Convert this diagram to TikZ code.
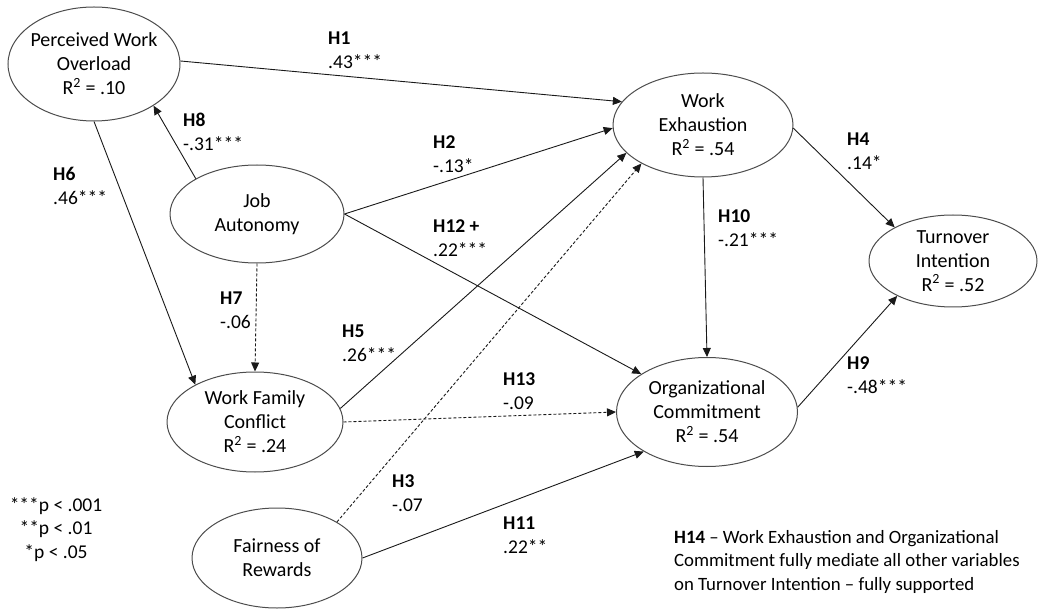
\documentclass[tikz,border=0pt]{standalone}
\usepackage{fontspec}
\setmainfont{Carlito}
\usetikzlibrary{arrows.meta,shapes.geometric}
\tikzset{
  var/.style={ellipse, draw=black!70, line width=1pt, inner sep=-25pt, align=center,
    font=\fontsize{20}{24}\selectfont},
  lbl/.style={anchor=north west, inner sep=0pt, align=left,
    font=\fontsize{19.5}{23.5}\selectfont},
  link/.style={draw=black!90, line width=0.9pt, -{Triangle[length=9pt,width=8pt]}},
  dlink/.style={link, dash pattern=on 3pt off 2pt},
}
\begin{document}
\begin{tikzpicture}[x=1pt,y=-1pt]
\useasboundingbox (0,0) rectangle (1038,609);
% variables
\node[var, minimum width=172pt, minimum height=114pt] (pwo) at (94,64) {Perceived Work\\Overload\\R\textsuperscript{2} = .10};
\node[var, minimum width=174pt, minimum height=98pt] (ja) at (257,214) {Job\\Autonomy};
\node[var, minimum width=180pt, minimum height=104pt] (we) at (703,125) {Work\\Exhaustion\\R\textsuperscript{2} = .54};
\node[var, minimum width=168pt, minimum height=92pt] (ti) at (953,261) {Turnover\\Intention\\R\textsuperscript{2} = .52};
\node[var, minimum width=181pt, minimum height=109pt] (oc) at (707,412) {Organizational\\Commitment\\R\textsuperscript{2} = .54};
\node[var, minimum width=176pt, minimum height=100pt] (wfc) at (255,422) {Work Family\\Conflict\\R\textsuperscript{2} = .24};
\node[var, minimum width=170pt, minimum height=100pt] (fr) at (277,558) {Fairness of\\Rewards};
% paths
\draw[link] (pwo.2) -- (we.164);
\draw[link] (ja.east) -- (we.182);
\draw[dlink] (fr.31) -- (we.212);
\draw[link] (we.-2) -- (ti.150);
\draw[link] (wfc.9) -- (we.200);
\draw[link] (pwo.south) -- (wfc.148);
\draw[dlink] (ja.south) -- (wfc.north);
\draw[link] (ja.150) -- (pwo.-35);
\draw[link] (oc.3) -- (ti.212);
\draw[link] (we.south) -- (oc.north);
\draw[link] (fr.east) -- (oc.212);
\draw[link] (ja.east) -- (oc.150);
\draw[dlink] (wfc.east) -- (oc.west);
% labels
\node[lbl] (l1) at (328,32) {\textbf{H1}\\.43***};
\node[lbl] (l2) at (433,136) {\textbf{H2}\\-.13*};
\node[lbl] (l3) at (392,475) {\textbf{H3}\\-.07};
\node[lbl] (l4) at (847,133) {\textbf{H4}\\.14*};
\node[lbl] (l5) at (342,325) {\textbf{H5}\\.26***};
\node[lbl] (l6) at (53,167) {\textbf{H6}\\.46***};
\node[lbl] (l7) at (220,292) {\textbf{H7}\\-.06};
\node[lbl] (l8) at (183,113) {\textbf{H8}\\-.31***};
\node[lbl] (l9) at (847,357) {\textbf{H9}\\-.48***};
\node[lbl] (l10) at (718,210) {\textbf{H10}\\-.21***};
\node[lbl] (l11) at (503,517) {\textbf{H11}\\.22**};
\node[lbl] (l12) at (433,220) {\textbf{H12 +}\\.22***};
\node[lbl] (l13) at (503,373) {\textbf{H13}\\-.09};
\node[lbl, font=\fontsize{18.8}{23.5}\selectfont] (h14) at (674,530) {\textbf{H14} -- Work Exhaustion and Organizational\\Commitment fully mediate all other variables\\on Turnover Intention -- fully supported};
\node[lbl, anchor=north, align=center] (legend) at (56,497) {***p < .001\\**p < .01\\*p < .05};
\end{tikzpicture}
\end{document}
